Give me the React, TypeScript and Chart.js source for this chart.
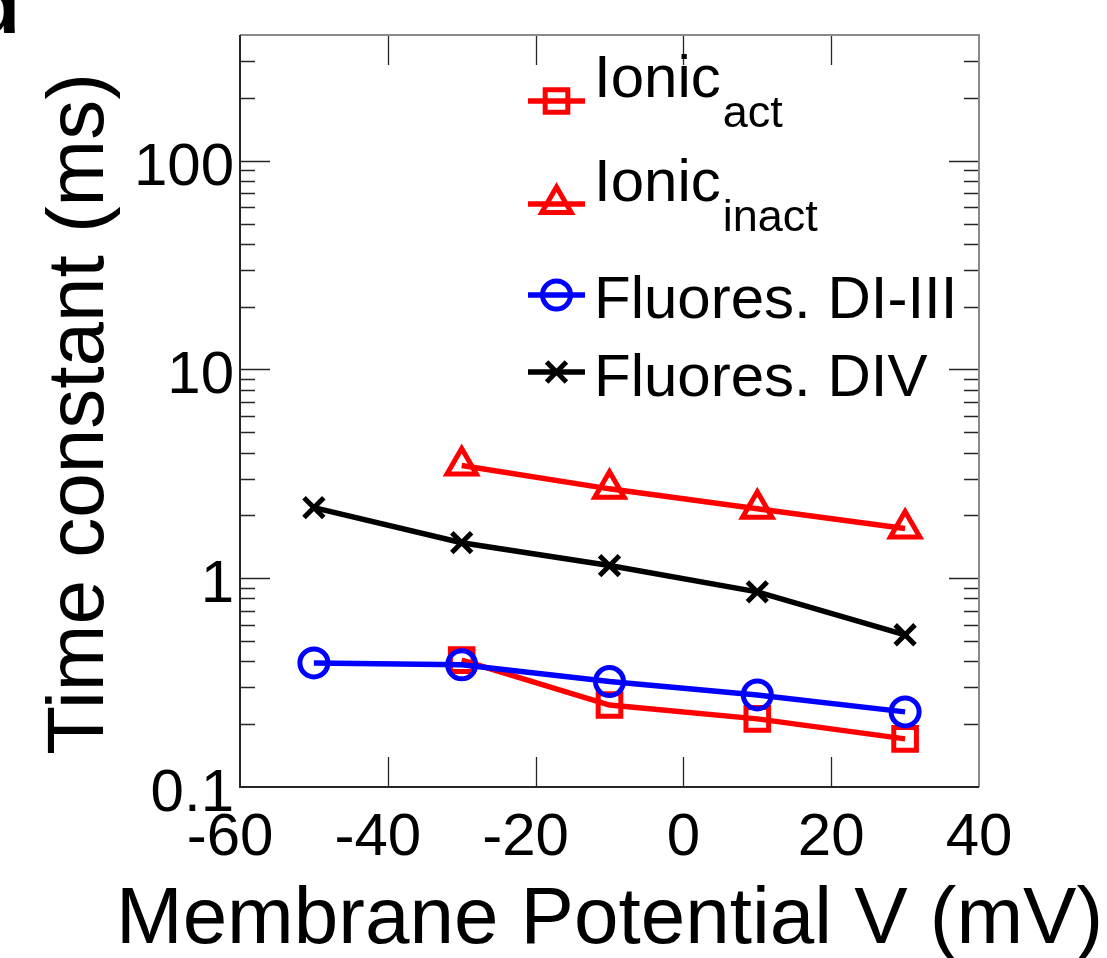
import React, { useEffect, useRef } from 'react';
import { Chart, registerables } from 'chart.js';

Chart.register(...registerables);

// ---- Data ----
const ionicActX = [-30, -10, 10, 30];
const ionicActY = [0.405, 0.247, 0.212, 0.17];

const ionicInactX = [-30, -10, 10, 30];
const ionicInactY = [3.47, 2.68, 2.15, 1.73];

const fluorDI3X = [-50, -30, -10, 10, 30];
const fluorDI3Y = [0.393, 0.385, 0.32, 0.276, 0.229];

const fluorDIVX = [-50, -30, -10, 10, 30];
const fluorDIVY = [2.18, 1.48, 1.15, 0.86, 0.536];

const xTickValues = [-60, -40, -20, 0, 20, 40];
const xTickLabels = ['-60', '-40', '-20', '0', '20', '40'];
const yTickValues = [0.1, 1, 10, 100];
const yTickLabels = ['0.1', '1', '10', '100'];

const legendMain = ['Ionic', 'Ionic', 'Fluores. DI-III', 'Fluores. DIV'];
const legendSub = ['act', 'inact', '', ''];

const xTitle = 'Membrane Potential V (mV)';
const yTitle = 'Time constant (ms)';
const panelLabel = 'd';

const FONT = '"Liberation Sans", Arial, Helvetica, sans-serif';
const font = (size: number, bold = false) => `${bold ? 'bold ' : ''}${size}px ${FONT}`;

const toPoints = (xs: number[], ys: number[]) => xs.map((x, i) => ({ x, y: ys[i] }));

function drawMarker(ctx: CanvasRenderingContext2D, style: string, x: number, y: number, r: number, color: string, lw: number) {
  ctx.save();
  ctx.strokeStyle = color;
  ctx.lineWidth = lw;
  ctx.lineJoin = 'miter';
  ctx.beginPath();
  if (style === 'circle') {
    ctx.arc(x, y, r, 0, Math.PI * 2);
  } else if (style === 'rect') {
    const s = Math.SQRT1_2 * r;
    ctx.rect(x - s, y - s, 2 * s, 2 * s);
  } else if (style === 'triangle') {
    const w = Math.sin((2 * Math.PI) / 3) * r;
    ctx.moveTo(x, y - r);
    ctx.lineTo(x + w, y + r / 2);
    ctx.lineTo(x - w, y + r / 2);
    ctx.closePath();
  } else if (style === 'crossRot') {
    const o = Math.cos(Math.PI / 4) * r;
    ctx.moveTo(x - o, y - o);
    ctx.lineTo(x + o, y + o);
    ctx.moveTo(x + o, y - o);
    ctx.lineTo(x - o, y + o);
  }
  ctx.stroke();
  ctx.restore();
}

const axesPlugin = {
  id: 'matlabAxes',
  beforeDatasetsDraw(chart: any) {
    const { ctx, chartArea } = chart;
    const { left, right, top, bottom } = chartArea;
    const xs = chart.scales.x;
    const ys = chart.scales.y;
    ctx.save();
    // ticks
    ctx.strokeStyle = '#262626';
    ctx.lineWidth = 1.3;
    ctx.beginPath();
    const yMax = ys.max;
    for (let d = 0; d < yTickValues.length; d++) {
      const base = yTickValues[d];
      for (let k = 1; k <= 9; k++) {
        const v = base * k;
        if (v <= ys.min * 1.0001 || v >= yMax * 0.999) continue;
        const py = Math.round(ys.getPixelForValue(v)) + 0.5;
        const len = k === 1 ? 30 : 15;
        ctx.moveTo(left, py);
        ctx.lineTo(left + len, py);
        ctx.moveTo(right, py);
        ctx.lineTo(right - len, py);
      }
    }
    for (const v of xTickValues) {
      if (v <= xs.min || v >= xs.max) continue;
      const px = Math.round(xs.getPixelForValue(v)) + 0.5;
      ctx.moveTo(px, bottom);
      ctx.lineTo(px, bottom - 30);
      ctx.moveTo(px, top);
      ctx.lineTo(px, top + 30);
    }
    ctx.stroke();
    // box
    ctx.lineWidth = 2;
    ctx.strokeStyle = '#8a8a8a';
    ctx.beginPath();
    ctx.moveTo(left, top);
    ctx.lineTo(right, top);
    ctx.lineTo(right, bottom);
    ctx.stroke();
    ctx.strokeStyle = '#262626';
    ctx.beginPath();
    ctx.moveTo(left, top);
    ctx.lineTo(left, bottom);
    ctx.lineTo(right, bottom);
    ctx.stroke();
    ctx.restore();
  },
  afterDraw(chart: any) {
    const { ctx, chartArea } = chart;
    const { left, right, top, bottom } = chartArea;
    const xs = chart.scales.x;
    const ys = chart.scales.y;
    ctx.save();
    ctx.fillStyle = '#000';
    // x tick labels (digits centred, minus hanging left)
    ctx.font = font(60);
    ctx.textBaseline = 'alphabetic';
    xTickValues.forEach((v, i) => {
      const px = xs.getPixelForValue(v);
      const lab = xTickLabels[i];
      const neg = lab.startsWith('-');
      const digits = neg ? lab.slice(1) : lab;
      const w = ctx.measureText(digits).width;
      ctx.textAlign = 'center';
      ctx.fillText(digits, px, bottom + 68);
      if (neg) {
        ctx.textAlign = 'right';
        ctx.fillText('-', px - w / 2, bottom + 68);
      }
    });
    // y tick labels
    ctx.textAlign = 'right';
    yTickValues.forEach((v, i) => {
      const py = ys.getPixelForValue(v);
      ctx.fillText(yTickLabels[i], left - 6, py + 24);
    });
    // x title
    ctx.font = font(80);
    ctx.textAlign = 'center';
    ctx.fillText(xTitle, (left + right) / 2, 943);
    // y title
    ctx.save();
    ctx.translate(103, (top + bottom) / 2 + 3);
    ctx.rotate(-Math.PI / 2);
    ctx.textAlign = 'center';
    ctx.fillText(yTitle, 0, 0);
    ctx.restore();
    // panel label
    ctx.font = font(80, true);
    ctx.textAlign = 'right';
    ctx.fillText(panelLabel, 20, 33);
    // legend
    const rows = [
      { lineY: 101, base: 97, sub: 127 },
      { lineY: 204, base: 201, sub: 231 },
      { lineY: 295, base: 318, sub: 0 },
      { lineY: 372, base: 396, sub: 0 },
    ];
    const datasets = chart.data.datasets;
    rows.forEach((row, i) => {
      const ds = datasets[i];
      ctx.save();
      ctx.strokeStyle = ds.borderColor;
      ctx.lineWidth = ds.borderWidth;
      ctx.beginPath();
      ctx.moveTo(528, row.lineY);
      ctx.lineTo(585, row.lineY);
      ctx.stroke();
      ctx.restore();
      drawMarker(ctx, ds.pointStyle, 556.5, row.lineY, ds.pointRadius, ds.pointBorderColor, ds.pointBorderWidth);
      ctx.fillStyle = '#000';
      ctx.textAlign = 'left';
      ctx.font = font(60);
      ctx.fillText(legendMain[i], 594, row.base);
      if (legendSub[i]) {
        const w = ctx.measureText(legendMain[i]).width;
        ctx.font = font(45);
        ctx.fillText(legendSub[i], 594 + w + 2, row.sub);
      }
    });
    ctx.restore();
  },
};

export default function App() {
  const ref = useRef<HTMLCanvasElement>(null);
  useEffect(() => {
    if (!ref.current) return;
    const mk = (label: string, xs: number[], ys: number[], color: string, style: string, r: number, order: number) => ({
      label,
      data: toPoints(xs, ys),
      borderColor: color,
      backgroundColor: 'transparent',
      borderWidth: 5.5,
      pointStyle: style,
      pointRadius: r,
      pointHoverRadius: r,
      pointBorderColor: color,
      pointBackgroundColor: 'transparent',
      pointBorderWidth: 5,
      tension: 0,
      fill: false,
      order,
    });
    const chart = new Chart(ref.current, {
      type: 'line',
      data: {
        datasets: [
          mk('Ionic act', ionicActX, ionicActY, '#ff0000', 'rect', 16, 4),
          mk('Ionic inact', ionicInactX, ionicInactY, '#ff0000', 'triangle', 17, 3),
          mk('Fluores. DI-III', fluorDI3X, fluorDI3Y, '#0000ff', 'circle', 14, 2),
          mk('Fluores. DIV', fluorDIVX, fluorDIVY, '#000000', 'crossRot', 14, 1),
        ] as any,
      },
      options: {
        animation: false,
        responsive: false,
        devicePixelRatio: 1,
        events: [],
        layout: { padding: { left: 0, top: 35, right: 128, bottom: 0 } },
        plugins: { legend: { display: false }, tooltip: { enabled: false }, title: { display: false } },
        scales: {
          x: {
            type: 'linear',
            min: -60,
            max: 40,
            grid: { display: false },
            border: { display: false },
            ticks: { display: false, stepSize: 20 },
            afterFit: (s: any) => { s.height = 171; },
          },
          y: {
            type: 'logarithmic',
            min: 0.1,
            max: 400,
            grid: { display: false },
            border: { display: false },
            ticks: { display: false },
            afterFit: (s: any) => { s.width = 240; },
          },
        },
      } as any,
      plugins: [axesPlugin],
    });
    return () => chart.destroy();
  }, []);
  return (
    <div style={{ position: 'absolute', left: 0, top: 0, width: 1107, height: 958, background: '#fff' }}>
      <canvas ref={ref} width={1107} height={958} style={{ display: 'block', width: 1107, height: 958 }} />
    </div>
  );
}
